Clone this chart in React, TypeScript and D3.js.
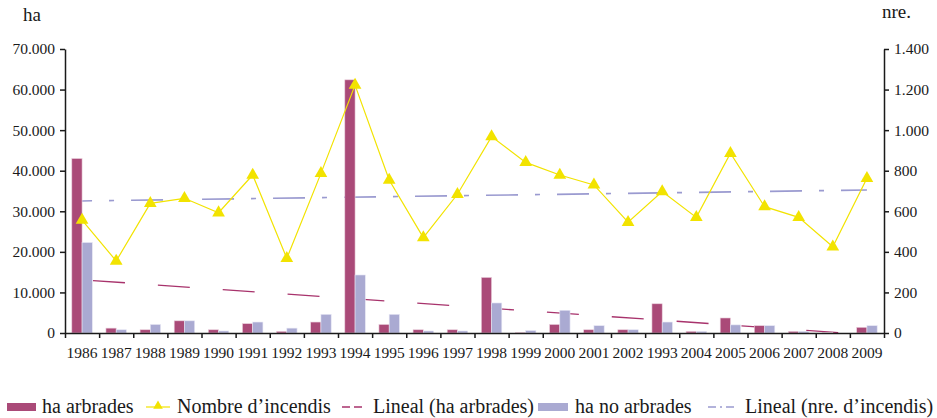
import { useEffect, useRef } from "react";
import * as d3 from "d3";

const years = ["1986", "1987", "1988", "1989", "1990", "1991", "1992", "1993", "1994", "1995", "1996", "1997",
  "1998", "1999", "2000", "2001", "2002", "1993", "2004", "2005", "2006", "2007", "2008", "2009"];
const haArbrades = [43000, 1200, 800, 3000, 800, 2300, 400, 2700, 62400, 2100, 800, 800,
  13700, 100, 2100, 800, 800, 7200, 400, 3700, 1800, 400, 150, 1400];
const haNoArbrades = [22300, 800, 2100, 3000, 500, 2700, 1200, 4600, 14300, 4600, 500, 500,
  7400, 600, 5600, 1800, 800, 2700, 400, 2000, 1800, 400, 0, 1800];
const nombreIncendis = [557, 355, 639, 664, 593, 779, 368, 787, 1222, 754, 470, 684,
  968, 841, 779, 730, 546, 697, 570, 886, 623, 570, 425, 763];
const haTicks = [0, 10000, 20000, 30000, 40000, 50000, 60000, 70000];
const nreTicks = [0, 200, 400, 600, 800, 1000, 1200, 1400];

const colArb = "#aa4a78";
const colNoArb = "#aaaad2";
const colYellow = "#f2e300";
const colTrendArb = "#a8336c";
const colTrendNre = "#9a9ad0";
const font = "'Liberation Serif', 'Times New Roman', serif";

// least squares line over category index
function linearFit(vals: number[]) {
  const n = vals.length;
  const mx = d3.mean(d3.range(n))!;
  const my = d3.mean(vals)!;
  let num = 0, den = 0;
  vals.forEach((v, i) => { num += (i - mx) * (v - my); den += (i - mx) ** 2; });
  const b = num / den;
  return [my - b * mx, my + b * (n - 1 - mx)];
}

function App() {
  const svgRef = useRef<SVGSVGElement>(null);

  useEffect(() => {
    document.body.style.margin = "0";
    const margin = { top: 49, right: 53, bottom: 85, left: 65 };
    const W = 937, H = 418;
    const width = W - margin.left - margin.right;
    const height = H - margin.top - margin.bottom;

    const root = d3.select(svgRef.current);
    root.selectAll("*").remove();
    const svg = root.append("g").attr("transform", `translate(${margin.left},${margin.top})`);

    const x = d3.scaleBand<number>().domain(d3.range(years.length)).range([0, width]).padding(0);
    const xEdge = d3.scaleLinear().domain([0, years.length]).range([0, width]);
    const y = d3.scaleLinear().domain([0, 70000]).range([height, 0]);
    const y2 = d3.scaleLinear().domain([0, 1400]).range([height, 0]);
    const fmt = d3.formatLocale({ thousands: ".", grouping: [3], decimal: ",", currency: ["", ""] }).format(",d");

    const barW = x.bandwidth() * 0.3;
    const cx = (i: number) => x(i)! + x.bandwidth() / 2;

    // trend lines (behind the bars)
    svg.append("defs").append("clipPath").attr("id", "plotclip")
      .append("rect").attr("width", width).attr("height", height);
    const fitArb = linearFit(haArbrades);
    const fitNre = linearFit(nombreIncendis);
    const last = years.length - 1;
    svg.append("line").attr("clip-path", "url(#plotclip)")
      .attr("x1", cx(0)).attr("x2", cx(last))
      .attr("y1", y(fitArb[0])).attr("y2", y(fitArb[1]))
      .attr("stroke", colTrendArb).attr("stroke-width", 1.3)
      .attr("stroke-dasharray", "32,33").attr("stroke-dashoffset", 54);
    svg.append("line")
      .attr("x1", cx(0)).attr("x2", cx(last))
      .attr("y1", y2(fitNre[0])).attr("y2", y2(fitNre[1]))
      .attr("stroke", colTrendNre).attr("stroke-width", 1.6)
      .attr("stroke-dasharray", "32,17,5,17").attr("stroke-dashoffset", 22);

    // bars
    svg.append("g").selectAll("rect").data(haArbrades).join("rect")
      .attr("x", (d, i) => cx(i) - barW)
      .attr("y", d => y(d))
      .attr("width", barW)
      .attr("height", d => height - y(d))
      .attr("fill", colArb)
      .attr("stroke", "#e9cfdc").attr("stroke-width", 0.6);
    svg.append("g").selectAll("rect").data(haNoArbrades).join("rect")
      .attr("x", (d, i) => cx(i))
      .attr("y", d => y(d))
      .attr("width", barW)
      .attr("height", d => height - y(d))
      .attr("fill", colNoArb)
      .attr("stroke", "#e6e6f4").attr("stroke-width", 0.6);

    // incendis line
    const line = d3.line<number>().x((d, i) => cx(i)).y(d => y2(d));
    svg.append("path").datum(nombreIncendis).attr("d", line)
      .attr("fill", "none").attr("stroke", colYellow).attr("stroke-width", 1.2);
    const tri = d3.symbol().type(d3.symbolTriangle).size(70);
    svg.append("g").selectAll("path").data(nombreIncendis).join("path")
      .attr("transform", (d, i) => `translate(${cx(i)},${y2(d)})`)
      .attr("d", tri)
      .attr("fill", colYellow);

    // axes
    const styleAxis = (g: any) => {
      g.selectAll("text").attr("font-family", font).attr("font-size", 15.5).attr("fill", "#1a1a1a");
      g.selectAll("line,path").attr("stroke", "#1a1a1a").attr("stroke-width", 1.5);
    };
    svg.append("g")
      .call(d3.axisLeft(y).tickValues(haTicks).tickFormat(d => fmt(+d)).tickSize(5).tickSizeOuter(0).tickPadding(5))
      .call(styleAxis);
    svg.append("g").attr("transform", `translate(${width},0)`)
      .call(d3.axisRight(y2).tickValues(nreTicks).tickFormat(d => fmt(+d)).tickSize(5).tickSizeOuter(0).tickPadding(5))
      .call(styleAxis);
    svg.append("g").attr("transform", `translate(0,${height})`)
      .call(d3.axisBottom(xEdge).tickValues(d3.range(years.length + 1)).tickFormat(() => "").tickSize(5).tickSizeOuter(0))
      .call(styleAxis);
    svg.append("g").attr("transform", `translate(0,${height})`)
      .call(d3.axisBottom(x).tickFormat(i => years[i]).tickSize(0).tickPadding(14))
      .call(styleAxis)
      .call(g => g.select(".domain").remove());

    // axis titles
    root.append("text").attr("x", 23).attr("y", 21).text("ha")
      .attr("font-family", font).attr("font-size", 19).attr("fill", "#1a1a1a");
    root.append("text").attr("x", 882).attr("y", 18).text("nre.")
      .attr("font-family", font).attr("font-size", 19).attr("fill", "#1a1a1a");

    // legend
    const lg = root.append("g").attr("font-family", font).attr("font-size", 20).attr("fill", "#1a1a1a");
    const ly = 407;
    lg.append("rect").attr("x", 7).attr("y", ly - 4).attr("width", 29).attr("height", 8).attr("fill", colArb);
    lg.append("text").attr("x", 42).attr("y", ly + 6).text("ha arbrades");
    lg.append("line").attr("x1", 146).attr("x2", 170).attr("y1", ly).attr("y2", ly)
      .attr("stroke", colYellow).attr("stroke-width", 1.2);
    lg.append("path").attr("transform", `translate(158,${ly - 1})`)
      .attr("d", d3.symbol().type(d3.symbolTriangle).size(40)).attr("fill", colYellow);
    lg.append("text").attr("x", 177).attr("y", ly + 6).text("Nombre d\u2019incendis");
    lg.append("line").attr("x1", 342).attr("x2", 362).attr("y1", ly).attr("y2", ly)
      .attr("stroke", colTrendArb).attr("stroke-width", 1.3).attr("stroke-dasharray", "8,4");
    lg.append("text").attr("x", 373).attr("y", ly + 6).text("Lineal (ha arbrades)");
    lg.append("rect").attr("x", 538).attr("y", ly - 4).attr("width", 30).attr("height", 8).attr("fill", colNoArb);
    lg.append("text").attr("x", 575).attr("y", ly + 6).text("ha no arbrades");
    lg.append("line").attr("x1", 708).attr("x2", 735).attr("y1", ly).attr("y2", ly)
      .attr("stroke", colTrendNre).attr("stroke-width", 1.3).attr("stroke-dasharray", "8,4,2,4");
    lg.append("text").attr("x", 745).attr("y", ly + 6).text("Lineal (nre. d\u2019incendis)");
  }, []);

  return <svg ref={svgRef} width={937} height={418} style={{ display: "block" }} />;
}

export default App;
